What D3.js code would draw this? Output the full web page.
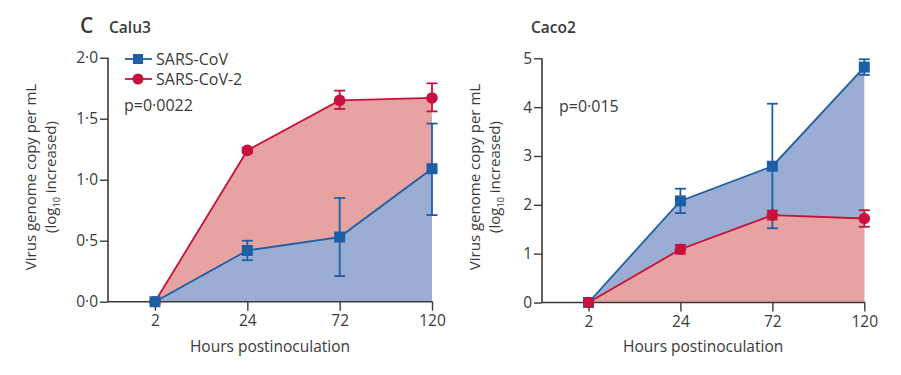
<!DOCTYPE html>
<html><head><meta charset="utf-8">
<script src="https://cdn.jsdelivr.net/npm/d3@7"></script>
<style>
body{margin:0;background:#fff;}
text{font-family:"Open Sans","Noto Sans",sans-serif;fill:#3a3a3a;}
</style></head>
<body><svg id="c" width="901" height="375"></svg>
<script>
const hours = ["2","24","72","120"];
const seriesNames = ["SARS-CoV","SARS-CoV-2"];
// Calu3
const calu3Cov  = [0, 0.42, 0.53, 1.09];
const calu3CovLo = [0, 0.34, 0.21, 0.71];
const calu3CovHi = [0, 0.50, 0.85, 1.46];
const calu3Cov2 = [0, 1.24, 1.65, 1.67];
const calu3Cov2Lo = [0, 1.22, 1.58, 1.56];
const calu3Cov2Hi = [0, 1.26, 1.73, 1.79];
const calu3Ticks = ["0·0","0·5","1·0","1·5","2·0"];
const calu3TickVals = [0,0.5,1,1.5,2];
// Caco2
const caco2Cov  = [0, 2.08, 2.79, 4.82];
const caco2CovLo = [0, 1.83, 1.52, 4.66];
const caco2CovHi = [0, 2.33, 4.07, 4.98];
const caco2Cov2 = [0, 1.09, 1.79, 1.72];
const caco2Cov2Lo = [0, 1.00, 1.70, 1.55];
const caco2Cov2Hi = [0, 1.18, 1.88, 1.89];
const caco2Ticks = ["0","1","2","3","4","5"];
const caco2TickVals = [0,1,2,3,4,5];

const BLUE="#1d5fa6", BLUEFILL="#9cadd3", RED="#c8103c", REDFILL="#e6a3a2", AX="#3a3a3a";
const svg = d3.select("#c");

function panel(o){
  const g = svg.append("g");
  const x = d3.scalePoint().domain(hours).range([o.x0, o.x1]);
  const y = d3.scaleLinear().domain([0, o.ymax]).range([o.y0, o.y1]);
  const series = [
    {name:"SARS-CoV", v:o.cov, lo:o.covLo, hi:o.covHi, c:BLUE, f:BLUEFILL, shape:"sq"},
    {name:"SARS-CoV-2", v:o.cov2, lo:o.cov2Lo, hi:o.cov2Hi, c:RED, f:REDFILL, shape:"ci"}
  ];
  const order = o.redFirst ? [series[1], series[0]] : [series[0], series[1]];
  const area = d3.area().x((d,i)=>x(hours[i])).y0(y(0)).y1(d=>y(d));
  const line = d3.line().x((d,i)=>x(hours[i])).y(d=>y(d));
  order.forEach(s=>{
    g.append("path").attr("d", area(s.v)).attr("fill", s.f);
  });
  order.forEach(s=>{
    g.append("path").attr("d", line(s.v)).attr("fill","none").attr("stroke", s.c).attr("stroke-width",1.8);
  });
  const ya = d3.axisLeft(y).tickValues(o.tickVals).tickFormat((d,i)=>o.ticks[i]).tickSize(8).tickPadding(2);
  const yg = g.append("g").attr("transform",`translate(${o.ax},0)`).call(ya);
  yg.select(".domain").remove();
  g.append("line").attr("x1",o.ax).attr("x2",o.ax).attr("y1",y(0)).attr("y2",y(o.ymax)).attr("stroke",AX).attr("stroke-width",1.6);
  const xa = d3.axisBottom(x).tickSize(9).tickPadding(4);
  const xg = g.append("g").attr("transform",`translate(0,${y(0)})`).call(xa);
  xg.select(".domain").remove();
  g.append("line").attr("x1",o.ax).attr("x2",o.x1+0.8).attr("y1",y(0)).attr("y2",y(0)).attr("stroke",AX).attr("stroke-width",1.6);
  [yg,xg].forEach(a=>{
    a.selectAll(".tick line").attr("stroke",AX).attr("stroke-width",1.4);
    a.selectAll("text").attr("font-size",15.5).attr("fill","#3a3a3a").style("font-family","'Open Sans',sans-serif");
  });
  order.forEach(s=>{
    s.v.forEach((v,i)=>{
      if(i===0) return;
      const cx = x(hours[i]);
      g.append("line").attr("x1",cx).attr("x2",cx).attr("y1",y(s.lo[i])).attr("y2",y(s.hi[i])).attr("stroke",s.c).attr("stroke-width",1.8);
      [s.lo[i], s.hi[i]].forEach(e=>g.append("line").attr("x1",cx-5.5).attr("x2",cx+5.5).attr("y1",y(e)).attr("y2",y(e)).attr("stroke",s.c).attr("stroke-width",1.8));
    });
  });
  order.forEach(s=>{
    s.v.forEach((v,i)=>{
      const cx = x(hours[i]), cy = y(v);
      if(s.shape==="sq") g.append("rect").attr("x",cx-5.5).attr("y",cy-5.5).attr("width",11).attr("height",11).attr("fill",s.c);
      else g.append("circle").attr("cx",cx).attr("cy",cy).attr("r",5.8).attr("fill",s.c);
    });
  });
  g.append("text").attr("x",(o.ax+o.x1)/2).attr("y",352).attr("text-anchor","middle").attr("font-size",15.5).text("Hours postinoculation");
  const lab = g.append("text").attr("transform",`translate(${o.lx},${177}) rotate(-90)`).attr("text-anchor","middle").attr("font-size",15);
  lab.append("tspan").attr("x",0).attr("dy",0).text("Virus genome copy per mL");
  const t2 = lab.append("tspan").attr("x",0).attr("dy",20).text("(log");
  t2.append("tspan").attr("font-size",9).attr("dy",4).text("10");
  lab.append("tspan").attr("dy",-4).text(" increased)");
  g.append("text").attr("x",o.px).attr("y",o.py).attr("font-size",16).text(o.p);
  return {g,x,y};
}

panel({x0:155,x1:432,ax:108,y0:301.7,y1:57.7,ymax:2,cov:calu3Cov,covLo:calu3CovLo,covHi:calu3CovHi,
  cov2:calu3Cov2,cov2Lo:calu3Cov2Lo,cov2Hi:calu3Cov2Hi,ticks:calu3Ticks,tickVals:calu3TickVals,redFirst:true,
  lx:36,p:"p=0·0022",px:124,py:111});
panel({x0:588.5,x1:864.3,ax:542,y0:302.5,y1:58.3,ymax:5,cov:caco2Cov,covLo:caco2CovLo,covHi:caco2CovHi,
  cov2:caco2Cov2,cov2Lo:caco2Cov2Lo,cov2Hi:caco2Cov2Hi,ticks:caco2Ticks,tickVals:caco2TickVals,redFirst:false,
  lx:480,p:"p=0·015",px:559,py:112});

svg.append("text").attr("x",80).attr("y",33).attr("font-size",21).attr("font-weight",600).text("C");
svg.append("text").attr("x",109).attr("y",33).attr("font-size",15.5).attr("font-weight",600).text("Calu3");
svg.append("text").attr("x",531).attr("y",33).attr("font-size",15.5).attr("font-weight",600).text("Caco2");

const leg = svg.append("g");
const legColors = [BLUE, RED];
seriesNames.forEach((n,i)=>{
  const yy = 59 + i*20;
  leg.append("line").attr("x1",125).attr("x2",152).attr("y1",yy).attr("y2",yy).attr("stroke",legColors[i]).attr("stroke-width",1.8);
  if(i===0) leg.append("rect").attr("x",133).attr("y",yy-5).attr("width",10).attr("height",10).attr("fill",legColors[i]);
  else leg.append("circle").attr("cx",138).attr("cy",yy).attr("r",5.5).attr("fill",legColors[i]);
  leg.append("text").attr("x",156).attr("y",yy+5.5).attr("font-size",16).text(n);
});
</script></body></html>
